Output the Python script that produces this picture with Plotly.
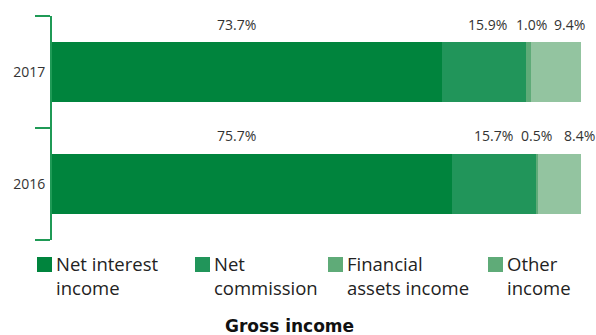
import plotly.graph_objects as go

# Gross income breakdown by year (% of total)
years = ["2016", "2017"]
categories = ["Net interest income", "Net commission", "Financial assets income", "Other income"]
net_interest = [75.7, 73.7]
net_commission = [15.7, 15.9]
financial_assets = [0.5, 1.0]
other_income = [8.4, 9.4]
series = [net_interest, net_commission, financial_assets, other_income]

legend_labels = ["Net interest<br>income", "Net<br>commission", "Financial<br>assets income", "Other<br>income"]
bar_colors = ["#00843d", "#21955a", "#5fab78", "#93c4a0"]
legend_colors = ["#00843d", "#21955a", "#5fab78", "#5fab78"]

# horizontal nudges (px) so neighbouring labels don't collide
label_shift = {"2016": [-16, 0, 0, 19], "2017": [-10, 4, 3, 13]}
label_lift = {"2016": 49, "2017": 48}

FONT = "Open Sans"
AXIS_GREEN = "#1f9a56"

fig = go.Figure()
for name, vals, col in zip(categories, series, bar_colors):
    fig.add_trace(go.Bar(
        y=years, x=vals, name=name, orientation="h",
        marker=dict(color=col, line=dict(width=0)),
        width=0.54, showlegend=False, hoverinfo="x+name",
    ))

annotations = []
for i, yr in enumerate(years):
    start = 0.0
    for k, vals in enumerate(series):
        v = vals[i]
        annotations.append(dict(
            x=start + v / 2, y=i, xref="x", yref="y",
            text=f"{v:.1f}%", showarrow=False,
            xshift=label_shift[yr][k], yshift=label_lift[yr],
            font=dict(family=FONT, size=14, color="#333333"),
        ))
        start += v

# legend drawn as swatches + two-line captions
legend_x = [37, 195, 328, 488]
W, H = 596, 335
shapes = []
for lx, lab, col in zip(legend_x, legend_labels, legend_colors):
    shapes.append(dict(
        type="rect", xref="paper", yref="paper",
        x0=(lx - 52) / 529, x1=(lx + 15 - 52) / 529,
        y0=(240 - 272) / 224, y1=(240 - 257) / 224,
        fillcolor=col, line=dict(width=0),
    ))
    annotations.append(dict(
        x=(lx + 17 - 52) / 529, y=(240 - 249) / 224, xref="paper", yref="paper",
        xanchor="left", yanchor="top", align="left", showarrow=False,
        text=lab, font=dict(family=FONT, size=18.5, color="#222222"),
    ))

annotations.append(dict(
    x=(289 - 52) / 529, y=(240 - 326) / 224, xref="paper", yref="paper",
    xanchor="center", yanchor="middle", showarrow=False,
    text="<b>Gross income</b>", font=dict(family="DejaVu Sans", size=17, color="#111111"),
))

fig.update_layout(
    width=W, height=H,
    margin=dict(l=52, r=15, t=16, b=95),
    barmode="stack", bargap=0,
    plot_bgcolor="white", paper_bgcolor="white",
    xaxis=dict(range=[0, 100], visible=False, fixedrange=True),
    yaxis=dict(
        type="category", categoryorder="array", categoryarray=years,
        range=[-0.5, 1.5], showline=True, linecolor=AXIS_GREEN, linewidth=2,
        ticks="outside", tickson="boundaries", ticklen=15, tickwidth=2,
        tickcolor=AXIS_GREEN, showgrid=False, zeroline=False,
        ticklabelstandoff=2,
        tickfont=dict(family=FONT, size=14, color="#333333"),
    ),
    annotations=annotations, shapes=shapes,
    showlegend=False,
)

fig.write_html("out.html")
